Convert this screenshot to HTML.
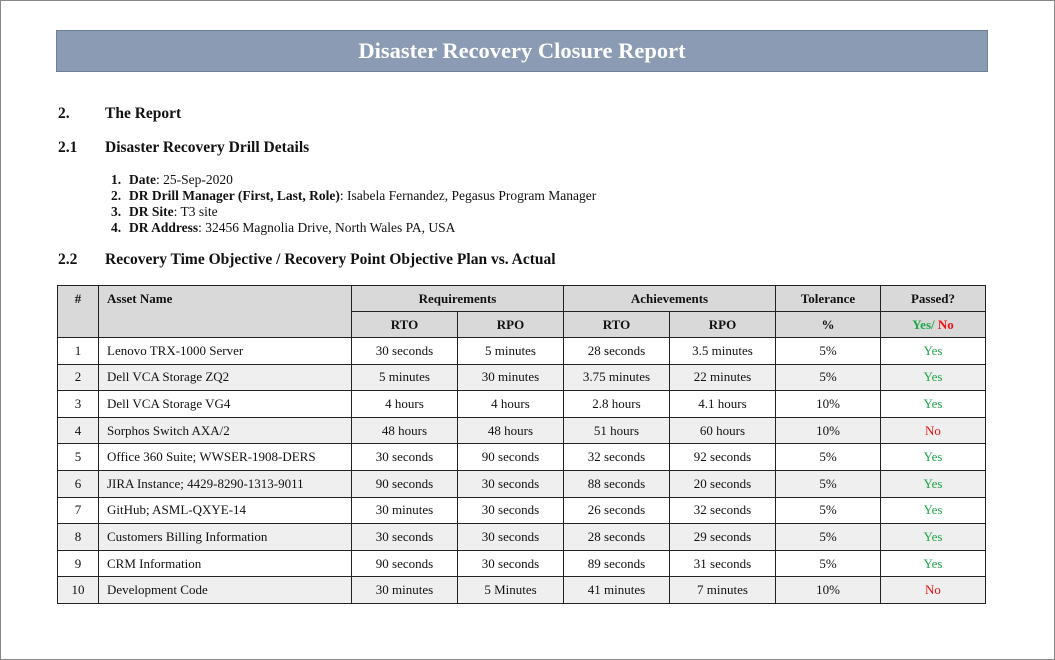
<!DOCTYPE html>
<html><head><meta charset="utf-8"><style>
*{margin:0;padding:0;box-sizing:border-box}
body{width:1055px;height:660px;background:#fff;font-family:"Liberation Serif",serif;color:#111;position:relative;overflow:hidden}
.frame{position:absolute;left:0;top:0;width:1055px;height:660px;border:1px solid #888}
.banner{position:absolute;left:56px;top:30px;width:932px;height:42px;background:#8b9bb3;border:1px solid #6f7f98;color:#fff;font-weight:bold;font-size:22.5px;text-align:center;line-height:40px}
.h{position:absolute;font-weight:bold;font-size:15.5px}
.li{position:absolute;left:111px;font-size:13.5px}
.li b{display:inline-block;width:18px}
table{position:absolute;left:57px;top:285px;border-collapse:collapse;font-size:13px}
td{border:1px solid #222;text-align:center;height:26.6px;padding:0}
thead td{background:#d9d9d9;font-weight:bold;height:26px}
td.l{text-align:left;padding-left:8px}
tr.g td{background:#efefef}
.y{color:#1fa64a}.n{color:#f01010}
</style></head><body>
<div class="frame"></div>
<div class="banner">Disaster Recovery Closure Report</div>
<div class="h" style="left:58px;top:105px">2.</div><div class="h" style="left:105px;top:105px">The Report</div>
<div class="h" style="left:58px;top:139px">2.1</div><div class="h" style="left:105px;top:139px">Disaster Recovery Drill Details</div>
<div class="li" style="top:172px"><b>1.</b><b style="width:auto">Date</b>: 25-Sep-2020</div>
<div class="li" style="top:188px"><b>2.</b><b style="width:auto">DR Drill Manager (First, Last, Role)</b>: Isabela Fernandez, Pegasus Program Manager</div>
<div class="li" style="top:204px"><b>3.</b><b style="width:auto">DR Site</b>: T3 site</div>
<div class="li" style="top:220px"><b>4.</b><b style="width:auto">DR Address</b>: 32456 Magnolia Drive, North Wales PA, USA</div>
<div class="h" style="left:58px;top:251px">2.2</div><div class="h" style="left:105px;top:251px">Recovery Time Objective / Recovery Point Objective Plan vs. Actual</div>
<table>
<colgroup><col style="width:41px"><col style="width:253px"><col style="width:106px"><col style="width:106px"><col style="width:106px"><col style="width:106px"><col style="width:105px"><col style="width:105px"></colgroup>
<thead>
<tr><td rowspan="2" style="vertical-align:top;padding-top:5px">#</td><td rowspan="2" class="l" style="vertical-align:top;padding-top:5px">Asset Name</td><td colspan="2">Requirements</td><td colspan="2">Achievements</td><td>Tolerance</td><td>Passed?</td></tr>
<tr><td>RTO</td><td>RPO</td><td>RTO</td><td>RPO</td><td>%</td><td><span class="y">Yes/</span> <span class="n">No</span></td></tr>
</thead>
<tbody>
<tr><td>1</td><td class="l">Lenovo TRX-1000 Server</td><td>30 seconds</td><td>5 minutes</td><td>28 seconds</td><td>3.5 minutes</td><td>5%</td><td class="y">Yes</td></tr>
<tr class="g"><td>2</td><td class="l">Dell VCA Storage ZQ2</td><td>5 minutes</td><td>30 minutes</td><td>3.75 minutes</td><td>22 minutes</td><td>5%</td><td class="y">Yes</td></tr>
<tr><td>3</td><td class="l">Dell VCA Storage VG4</td><td>4 hours</td><td>4 hours</td><td>2.8 hours</td><td>4.1 hours</td><td>10%</td><td class="y">Yes</td></tr>
<tr class="g"><td>4</td><td class="l">Sorphos Switch AXA/2</td><td>48 hours</td><td>48 hours</td><td>51 hours</td><td>60 hours</td><td>10%</td><td class="n">No</td></tr>
<tr><td>5</td><td class="l">Office 360 Suite; WWSER-1908-DERS</td><td>30 seconds</td><td>90 seconds</td><td>32 seconds</td><td>92 seconds</td><td>5%</td><td class="y">Yes</td></tr>
<tr class="g"><td>6</td><td class="l">JIRA Instance; 4429-8290-1313-9011</td><td>90 seconds</td><td>30 seconds</td><td>88 seconds</td><td>20 seconds</td><td>5%</td><td class="y">Yes</td></tr>
<tr><td>7</td><td class="l">GitHub; ASML-QXYE-14</td><td>30 minutes</td><td>30 seconds</td><td>26 seconds</td><td>32 seconds</td><td>5%</td><td class="y">Yes</td></tr>
<tr class="g"><td>8</td><td class="l">Customers Billing Information</td><td>30 seconds</td><td>30 seconds</td><td>28 seconds</td><td>29 seconds</td><td>5%</td><td class="y">Yes</td></tr>
<tr><td>9</td><td class="l">CRM Information</td><td>90 seconds</td><td>30 seconds</td><td>89 seconds</td><td>31 seconds</td><td>5%</td><td class="y">Yes</td></tr>
<tr class="g"><td>10</td><td class="l">Development Code</td><td>30 minutes</td><td>5 Minutes</td><td>41 minutes</td><td>7 minutes</td><td>10%</td><td class="n">No</td></tr>
</tbody></table>
</body></html>
